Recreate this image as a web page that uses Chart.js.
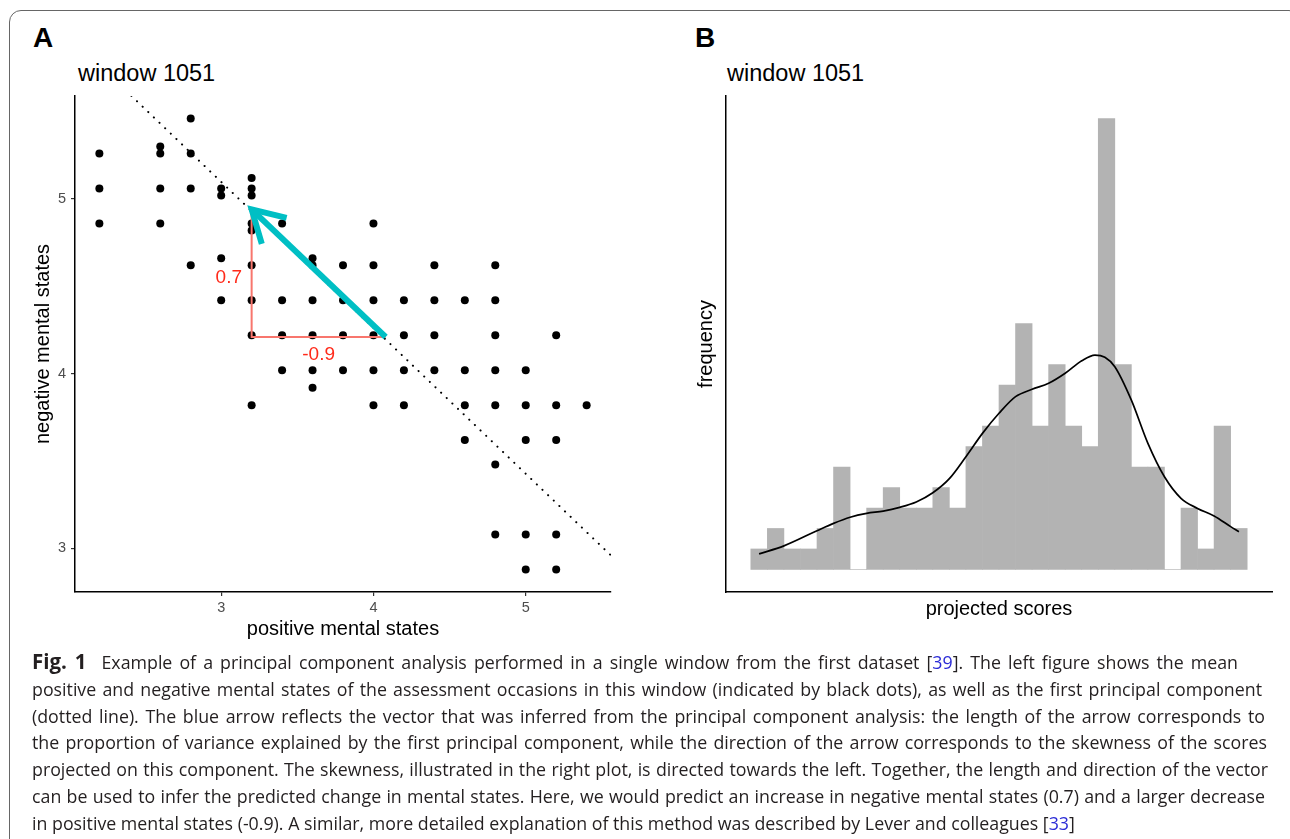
<!DOCTYPE html>
<html>
<head>
<meta charset="utf-8">
<title>window 1051</title>
<script src="https://cdn.jsdelivr.net/npm/chart.js@4.4.1/dist/chart.umd.min.js"></script>
<style>
  body { margin: 0; background: #fff; width: 1290px; height: 839px; overflow: hidden; position: relative; font-family: "Liberation Sans", Arial, sans-serif; }
  .frame { position: absolute; left: 9px; top: 10px; width: 1290px; height: 900px; border: 1px solid #666; border-radius: 12px; }
  .tag { position: absolute; top: 22px; font-weight: bold; font-size: 28px; line-height: 32px; }
  .win { position: absolute; top: 60px; font-size: 23.5px; line-height: 26px; }
  canvas { position: absolute; }
  .caption { position: absolute; left: 32px; top: 648px; font-family: "Open Sans", "Noto Sans", sans-serif; font-size: 17.8px; line-height: 26.8px; color: #231f20; }
  .caption div { white-space: nowrap; }
  .caption .j { text-align: justify; text-align-last: justify; white-space: normal; }
  .caption b { font-size: 20.5px; margin-right: 8px; }
  .ref { color: #2b2bd6; }
</style>
</head>
<body>
<div class="frame"></div>
<div class="tag" style="left:33px">A</div>
<div class="tag" style="left:695px">B</div>
<div class="win" style="left:78px">window 1051</div>
<div class="win" style="left:727px">window 1051</div>
<canvas id="scatterA" width="640" height="600" style="left:0;top:50px"></canvas>
<canvas id="histB" width="630" height="600" style="left:660px;top:50px"></canvas>
<div class="caption">
  <div class="j" style="width:1206px"><b>Fig. 1</b> Example of a principal component analysis performed in a single window from the first dataset [<span class="ref">39</span>]. The left figure shows the mean</div>
  <div class="j" style="width:1230px">positive and negative mental states of the assessment occasions in this window (indicated by black dots), as well as the first principal component</div>
  <div class="j" style="width:1233px">(dotted line). The blue arrow reflects the vector that was inferred from the principal component analysis: the length of the arrow corresponds to</div>
  <div class="j" style="width:1235px">the proportion of variance explained by the first principal component, while the direction of the arrow corresponds to the skewness of the scores</div>
  <div class="j" style="width:1236px">projected on this component. The skewness, illustrated in the right plot, is directed towards the left. Together, the length and direction of the vector</div>
  <div class="j" style="width:1233px">can be used to infer the predicted change in mental states. Here, we would predict an increase in negative mental states (0.7) and a larger decrease</div>
  <div>in positive mental states (-0.9). A similar, more detailed explanation of this method was described by Lever and colleagues [<span class="ref">33</span>]</div>
</div>
<script>
Chart.defaults.font.family = '"Liberation Sans", Arial, sans-serif';

// Panel A: mean positive / negative mental states per assessment occasion
const posScores = [
  2.2, 2.2, 2.2,
  2.6, 2.6, 2.6, 2.6,
  2.8, 2.8, 2.8, 2.8,
  3.0, 3.0, 3.0, 3.0,
  3.2, 3.2, 3.2, 3.2, 3.2, 3.2, 3.2, 3.2, 3.2,
  3.4, 3.4, 3.4, 3.4,
  3.6, 3.6, 3.6, 3.6, 3.6, 3.6,
  3.8, 3.8, 3.8, 3.8,
  4.0, 4.0, 4.0, 4.0, 4.0, 4.0,
  4.2, 4.2, 4.2, 4.2,
  4.4, 4.4, 4.4, 4.4,
  4.6, 4.6, 4.6, 4.6,
  4.8, 4.8, 4.8, 4.8, 4.8, 4.8, 4.8,
  5.0, 5.0, 5.0, 5.0, 5.0,
  5.2, 5.2, 5.2, 5.2, 5.2,
  5.4
];
const negScores = [
  5.26, 5.06, 4.86,
  5.30, 5.26, 5.06, 4.86,
  5.46, 5.26, 5.06, 4.62,
  5.06, 5.02, 4.66, 4.42,
  5.12, 5.06, 5.02, 4.86, 4.82, 4.62, 4.42, 4.22, 3.82,
  4.86, 4.42, 4.22, 4.02,
  4.66, 4.62, 4.42, 4.22, 4.02, 3.92,
  4.62, 4.42, 4.22, 4.02,
  4.86, 4.62, 4.42, 4.22, 4.02, 3.82,
  4.42, 4.22, 4.02, 3.82,
  4.62, 4.42, 4.22, 4.02,
  4.42, 4.02, 3.82, 3.62,
  4.62, 4.42, 4.22, 4.02, 3.82, 3.48, 3.08,
  4.02, 3.82, 3.62, 3.08, 2.88,
  4.22, 3.82, 3.62, 3.08, 2.88,
  3.82
];
// first principal component (end points where it leaves the panel)
const pcLineX = [2.41, 5.56];
const pcLineY = [5.59, 2.96];
// predicted change vector: tail, head
const arrowX = [4.08, 3.2];
const arrowY = [4.21, 4.94];
// legs of the triangle
const legX = [3.2, 3.2, 4.08];
const legY = [4.94, 4.21, 4.21];
const legLabels = ["0.7", "-0.9"];
const legLabelX = [3.05, 3.64];
const legLabelY = [4.55, 4.11];
const axisTicksA = [3, 4, 5];

// Panel B: histogram of projected scores (30 bins) and density curve
const binCounts = [1, 2, 1, 1, 2, 5, 0, 3, 4, 3, 3, 4, 3, 6, 7, 9, 12, 7, 10, 7, 6, 22, 10, 5, 5, 0, 3, 1, 7, 2];
const densityX = [0, 1.5, 3.5, 4.5, 5.5, 6.5, 7.5, 8.5, 9.5, 10.5, 11.5, 12.5, 13.5, 14.5, 15.5, 16.5, 17.5, 18.5, 19.5, 20.3, 20.9, 21.5, 22.5, 23.5, 24.5, 25.5, 26.5, 27.5, 28.5, 29];
const densityY = [0.76, 1.15, 1.89, 2.25, 2.55, 2.74, 2.85, 3.03, 3.29, 3.74, 4.43, 5.5, 6.64, 7.62, 8.43, 8.79, 9.08, 9.57, 10.18, 10.46, 10.35, 9.89, 8.26, 6.15, 4.52, 3.47, 2.98, 2.61, 2.09, 1.84];

const arrowColor = "#00BFC4";
const legColor = "#F8766D";

const toPoints = (xs, ys) => xs.map((x, i) => ({ x: x, y: ys[i] }));

// open arrow head + red leg labels
const arrowHead = {
  id: "arrowHead",
  afterDatasetsDraw(chart) {
    const { ctx, scales: { x, y } } = chart;
    const tx = x.getPixelForValue(arrowX[0]);
    const ty = y.getPixelForValue(arrowY[0]);
    const hx = x.getPixelForValue(arrowX[1]);
    const hy = y.getPixelForValue(arrowY[1]);
    const ang = Math.atan2(ty - hy, tx - hx);
    const len = 36;
    const spread = Math.PI / 6;
    ctx.save();
    ctx.strokeStyle = arrowColor;
    ctx.lineWidth = 6;
    ctx.lineJoin = "miter";
    ctx.beginPath();
    ctx.moveTo(hx + len * Math.cos(ang - spread), hy + len * Math.sin(ang - spread));
    ctx.lineTo(hx, hy);
    ctx.lineTo(hx + len * Math.cos(ang + spread), hy + len * Math.sin(ang + spread));
    ctx.stroke();

    ctx.fillStyle = "#ff2a1a";
    ctx.font = '19px "Liberation Sans", Arial, sans-serif';
    ctx.textAlign = "center";
    ctx.textBaseline = "middle";
    legLabels.forEach((t, i) => {
      ctx.fillText(t, x.getPixelForValue(legLabelX[i]), y.getPixelForValue(legLabelY[i]));
    });
    ctx.restore();
  }
};

const tickGrid = { display: true, drawOnChartArea: false, drawTicks: true, tickLength: 4, color: "#333", lineWidth: 1.2 };
const axisBorder = { display: true, color: "#000", width: 1.5 };

new Chart(document.getElementById("scatterA"), {
  type: "scatter",
  data: {
    datasets: [
      { data: toPoints(arrowX, arrowY), showLine: true, borderColor: arrowColor, borderWidth: 6, pointRadius: 0, borderCapStyle: "butt" },
      { data: toPoints(legX, legY), showLine: true, borderColor: legColor, borderWidth: 2, pointRadius: 0 },
      { data: toPoints(pcLineX, pcLineY), showLine: true, borderColor: "#000", borderWidth: 2, borderDash: [0.1, 7.7], borderCapStyle: "round", pointRadius: 0, clip: 0 },
      { data: toPoints(posScores, negScores), pointRadius: 4, pointBackgroundColor: "#000", pointBorderWidth: 0 }
    ]
  },
  options: {
    responsive: false,
    animation: false,
    events: [],
    layout: { padding: { top: 46, right: 29, left: 0, bottom: 0 } },
    plugins: { legend: { display: false }, tooltip: { enabled: false } },
    scales: {
      x: {
        type: "linear", min: 2.04, max: 5.56,
        afterBuildTicks: (axis) => { axis.ticks = axisTicksA.map(v => ({ value: v })); },
        ticks: { color: "#4d4d4d", font: { size: 14.5 }, padding: 3 },
        grid: tickGrid,
        border: axisBorder,
        title: { display: true, text: "positive mental states", color: "#000", font: { size: 20 }, padding: { top: 0, bottom: 8.6 } },
        afterFit: (s) => { s.height = 58; }
      },
      y: {
        type: "linear", min: 2.751, max: 5.589,
        afterBuildTicks: (axis) => { axis.ticks = axisTicksA.map(v => ({ value: v })); },
        ticks: { color: "#4d4d4d", font: { size: 14.5 }, padding: 5 },
        grid: tickGrid,
        border: axisBorder,
        title: { display: true, text: "negative mental states", color: "#000", font: { size: 20 }, padding: { top: 31.5, bottom: 0 } },
        afterFit: (s) => { s.width = 75; }
      }
    }
  },
  plugins: [arrowHead]
});

new Chart(document.getElementById("histB"), {
  type: "bar",
  data: {
    datasets: [
      { type: "line", data: toPoints(densityX, densityY), borderColor: "#000", borderWidth: 1.7, pointRadius: 0, cubicInterpolationMode: "monotone", order: 0 },
      { type: "bar", data: binCounts.map((c, i) => ({ x: i, y: c })), backgroundColor: "#b3b3b3", borderWidth: 0, barPercentage: 1, categoryPercentage: 1, order: 1 }
    ]
  },
  options: {
    responsive: false,
    animation: false,
    events: [],
    layout: { padding: { top: 46, right: 18, left: 0, bottom: 0 } },
    plugins: { legend: { display: false }, tooltip: { enabled: false } },
    scales: {
      x: {
        type: "linear", min: -2, max: 31, offset: false,
        ticks: { display: false },
        grid: { display: false, offset: false },
        border: axisBorder,
        title: { display: true, text: "projected scores", color: "#000", font: { size: 20 }, padding: { top: 0, bottom: 28.6 } },
        afterFit: (s) => { s.height = 58; }
      },
      y: {
        type: "linear", min: -1.1, max: 23.1,
        ticks: { display: false },
        grid: { display: false },
        border: axisBorder,
        title: { display: true, text: "frequency", color: "#000", font: { size: 20 }, padding: { top: 34.6, bottom: 0 } },
        afterFit: (s) => { s.width = 66; }
      }
    }
  }
});
</script>
</body>
</html>
